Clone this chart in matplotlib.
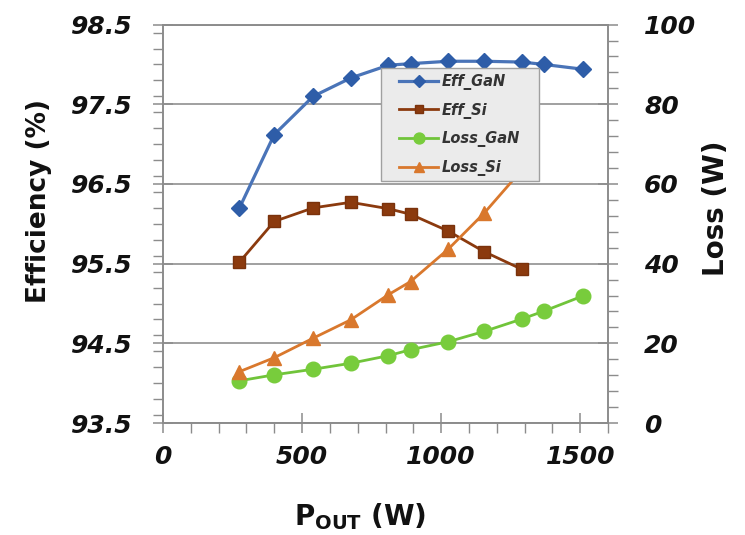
import matplotlib
matplotlib.use("Agg")
import matplotlib.pyplot as plt
import matplotlib.ticker as ticker
from matplotlib.patches import Rectangle

# ── data ─────────────────────────────────────────────────────────────────────
p_out = [275, 400, 540, 675, 810, 890, 1025, 1155, 1290, 1370, 1510]
eff_gan = [96.20, 97.12, 97.60, 97.83, 97.99, 98.01, 98.04, 98.04, 98.03, 98.00, 97.94]

p_out_si = [275, 400, 540, 675, 810, 890, 1025, 1155, 1290]
eff_si = [95.52, 96.03, 96.20, 96.27, 96.19, 96.12, 95.91, 95.65, 95.43]

loss_gan = [10.6, 12.1, 13.5, 15.0, 16.9, 18.4, 20.4, 23.0, 26.1, 28.1, 31.9]
loss_si = [12.9, 16.4, 21.3, 25.9, 32.2, 35.5, 43.6, 52.7, 63.5]

eff_ticks = [93.5, 94.5, 95.5, 96.5, 97.5, 98.5]
loss_ticks = [0, 20, 40, 60, 80, 100]
x_ticks = [0, 500, 1000, 1500]

# ── styling ──────────────────────────────────────────────────────────────────
plt.rcParams["font.family"] = ["DejaVu Sans"]
plt.rcParams["mathtext.fontset"] = "dejavusans"

SPINE = "#8c8c8c"
GRID = "#a0a0a0"
tick_font = dict(family="DejaVu Sans", weight="bold", style="italic", size=18)

fig = plt.figure(figsize=(7.45, 5.35), dpi=100)
ax = fig.add_axes([0.2188, 0.2093, 0.5973, 0.7447])
ax2 = ax.twinx()

ax.plot(p_out, eff_gan, color="#4a74b8", lw=2.3, marker="D", ms=8.5,
        mfc="#2e5da8", mec="#2e5da8", label="Eff_GaN", zorder=3)
ax.plot(p_out_si, eff_si, color="#8b3a0e", lw=2.0, marker="s", ms=8.5,
        mfc="#8b3a0e", mec="#7a320c", label="Eff_Si", zorder=3)
ax2.plot(p_out, loss_gan, color="#70c43a", lw=2.0, marker="o", ms=10.5,
         mfc="#78cc3c", mec="#78cc3c", label="Loss_GaN", zorder=3)
ax2.plot(p_out_si, loss_si, color="#d9782d", lw=2.0, marker="^", ms=10,
         mfc="#d9782d", mec="#d9782d", label="Loss_Si", zorder=3)

ax.set_xlim(0, 1600)
ax.set_ylim(93.5, 98.5)
ax2.set_ylim(0, 100)

ax.set_xticks(x_ticks)
ax.set_yticks(eff_ticks)
ax2.set_yticks(loss_ticks)
ax.xaxis.set_minor_locator(ticker.MultipleLocator(100))
ax.yaxis.set_minor_locator(ticker.MultipleLocator(0.2))
ax2.yaxis.set_minor_locator(ticker.MultipleLocator(4))

ax.set_xticklabels([str(t) for t in x_ticks], fontdict=tick_font)
ax.set_yticklabels([f"{t:.1f}" for t in eff_ticks], fontdict=tick_font)
ax2.set_yticklabels([str(t) for t in loss_ticks], fontdict=tick_font)

for a in (ax, ax2):
    for s in a.spines.values():
        s.set_color(SPINE)
        s.set_linewidth(1.2)
    a.tick_params(which="major", direction="inout", length=14, width=1.1,
                  color=SPINE, labelcolor="#111111")
    a.tick_params(which="minor", direction="out", length=7, width=1.0,
                  color=SPINE)
ax.tick_params(axis="y", which="major", pad=15)
ax.tick_params(axis="x", which="major", pad=9)
ax2.tick_params(axis="y", which="major", pad=19)

ax.grid(axis="y", which="major", color=GRID, lw=1.4)
ax.set_axisbelow(True)

# legend box (drawn as a patch so its padding can match the original)
ax2.add_patch(Rectangle((0.4925, 0.6043), 0.355, 0.2843, transform=ax2.transAxes,
                        facecolor="#bdbdbd", edgecolor="none", zorder=9))
ax2.add_patch(Rectangle((0.4899, 0.6073), 0.355, 0.2843, transform=ax2.transAxes,
                        facecolor="#ebebeb", edgecolor="#a0a0a0", lw=1.0, zorder=10))

handles = ax.get_lines() + ax2.get_lines()
leg = ax2.legend(handles, [h.get_label() for h in handles],
                 loc="upper left", bbox_to_anchor=(0.530, 0.876),
                 prop=dict(family="DejaVu Sans", weight="bold", style="italic", size=10.5),
                 frameon=False, handlelength=2.7, handletextpad=0.25,
                 labelspacing=0.86, borderpad=0.0, borderaxespad=0.0,
                 markerscale=0.75)
leg.set_zorder(11)
for t in leg.get_texts():
    t.set_color("#333333")

fig.text(0.052, 0.624, "Efficiency (%)", rotation=90, ha="center", va="center",
         fontsize=19, fontweight="bold", color="#111111")
fig.text(0.961, 0.611, "Loss (W)", rotation=90, ha="center", va="center",
         fontsize=20, fontweight="bold", color="#111111")
fig.text(0.483, 0.034, r"$\mathbf{P_{OUT}}$ (W)", ha="center", va="center",
         fontsize=20, fontweight="bold", color="#111111")

fig.savefig("out.png", dpi=100)
